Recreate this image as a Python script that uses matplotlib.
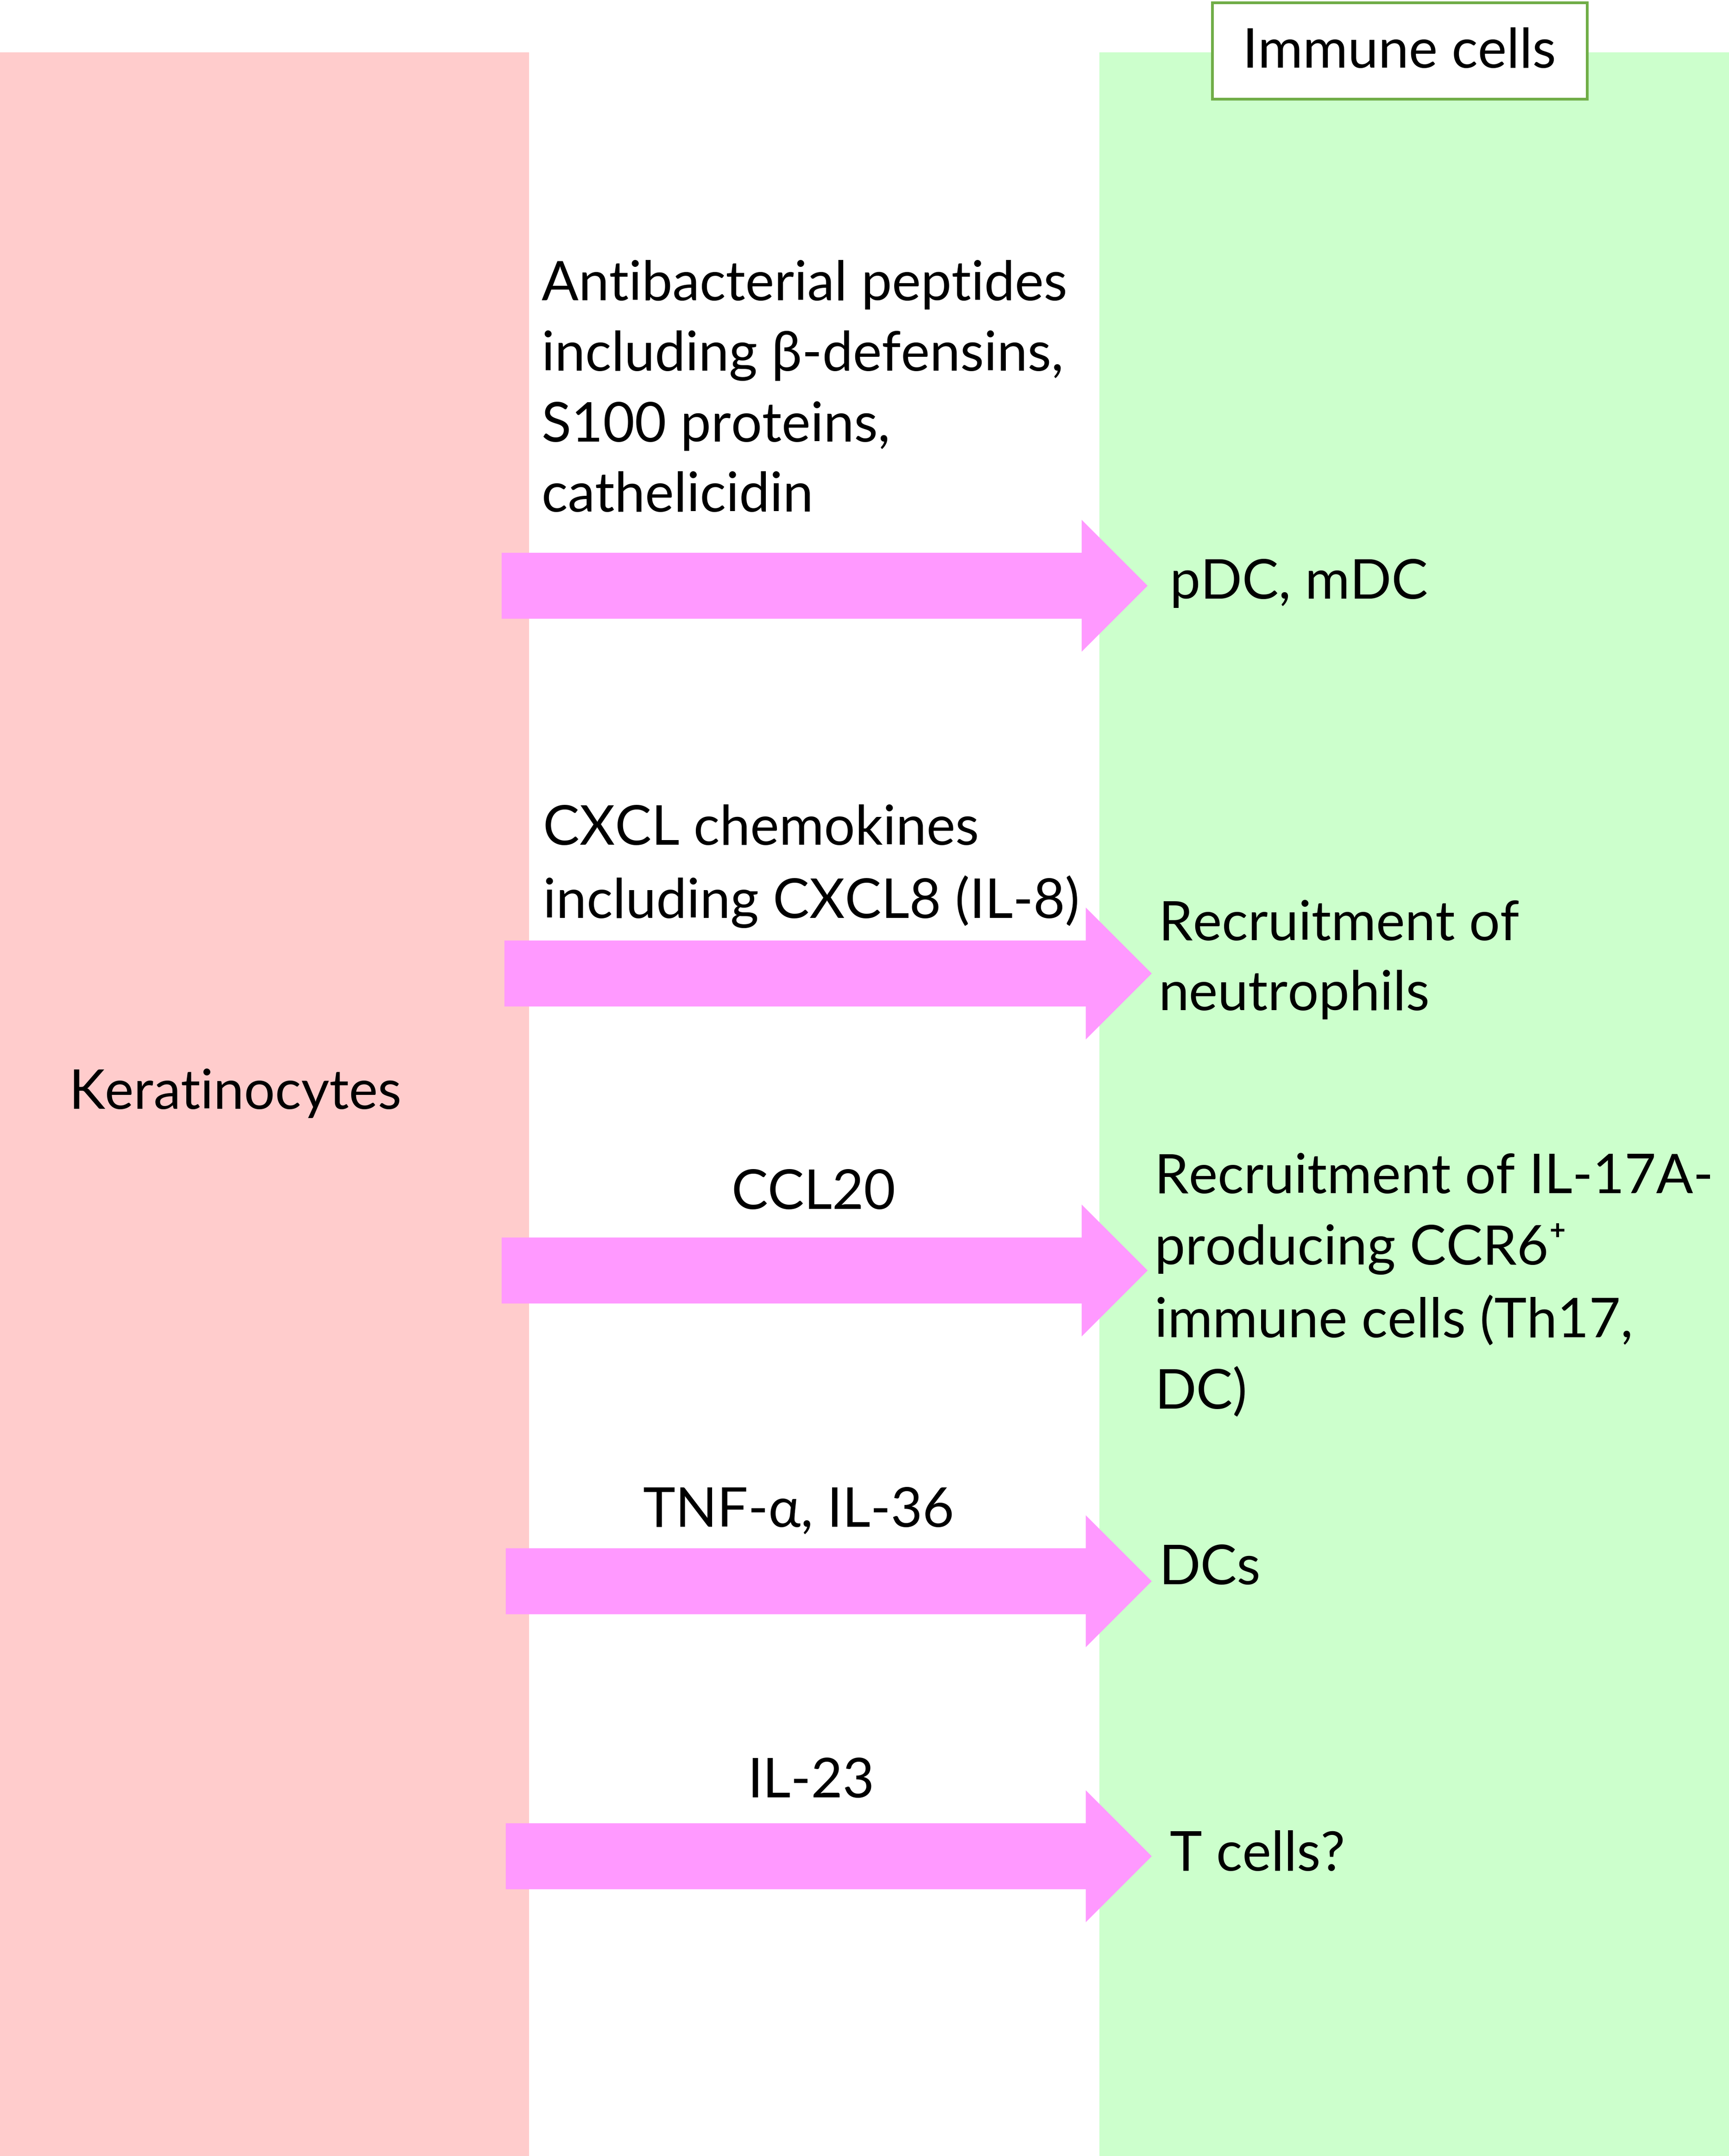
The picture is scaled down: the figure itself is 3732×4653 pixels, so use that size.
import matplotlib
matplotlib.use("Agg")
import matplotlib.pyplot as plt
from matplotlib.patches import Rectangle, FancyArrow

# labels of the diagram
left_label = "Keratinocytes"
right_title = "Immune cells"
mediators = [
    "Antibacterial peptides\nincluding β-defensins,\nS100 proteins,\ncathelicidin",
    "CXCL chemokines\nincluding CXCL8 (IL-8)",
    "CCL20",
    "TNF-α, IL-36",
    "IL-23",
]
targets = [
    "pDC, mDC",
    "Recruitment of\nneutrophils",
    "Recruitment of IL-17A-\nproducing CCR6⁺\nimmune cells (Th17,\nDC)",
    "DCs",
    "T cells?",
]

# layout (in 1258 x 1568 canvas units)
arrow_y = [426, 708, 924, 1150, 1350]
arrow_x0 = [365, 367, 365, 368, 368]
arrow_x1 = [835, 838, 835, 838, 838]
med_x = [394, 395, 592, 581, 590]
med_y = [284, 630, 868, 1099, 1296]
med_ha = ["left", "left", "center", "center", "center"]
tgt_x = [851, 843, 840, 843, 851]
tgt_y = [424, 698, 935, 1141, 1349]

PINK = "#FFCCCC"
GREEN = "#CCFFCC"
ARROW = "#FF99FF"
EDGE = "#70AD47"
FONT = ["Lato", "DejaVu Sans"]
FS = 85
LS = 1.51

fig = plt.figure(figsize=(37.32, 46.53), dpi=100)
ax = fig.add_axes([0, 0, 1, 1])
ax.set_xlim(0, 1258)
ax.set_ylim(1568, 0)
ax.axis("off")

ax.add_patch(Rectangle((0, 38), 385, 1530, facecolor=PINK, edgecolor="none"))
ax.add_patch(Rectangle((800, 38), 458, 1530, facecolor=GREEN, edgecolor="none"))
ax.add_patch(Rectangle((882, 2), 273, 70, facecolor="white", edgecolor=EDGE, linewidth=4.3))
ax.text(1018, 38, right_title, ha="center", va="center", fontsize=FS, family=FONT)
ax.text(50, 795, left_label, ha="left", va="center", fontsize=FS, family=FONT)

for i in range(len(arrow_y)):
    ax.add_patch(FancyArrow(arrow_x0[i], arrow_y[i], arrow_x1[i] - arrow_x0[i], 0,
                            width=48, head_width=96, head_length=48,
                            length_includes_head=True, color=ARROW, linewidth=0))
    ax.text(med_x[i], med_y[i], mediators[i], ha=med_ha[i], va="center",
            fontsize=FS, family=FONT, linespacing=LS)
    ax.text(tgt_x[i], tgt_y[i], targets[i], ha="left", va="center",
            fontsize=FS, family=FONT, linespacing=LS)

fig.savefig("out.png", dpi=100)
